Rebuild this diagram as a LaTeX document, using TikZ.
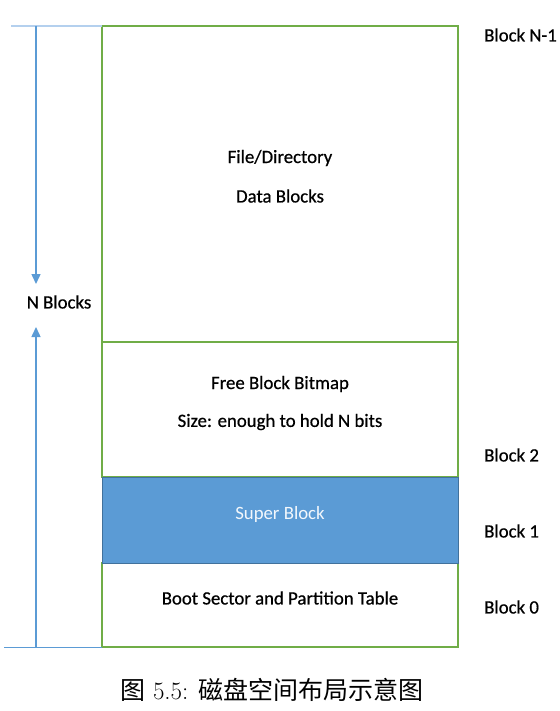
\documentclass[tikz,border=0pt]{standalone}
\usepackage{fontspec}
\setmainfont{Carlito}
\newfontfamily\heavy[FakeBold=0.6]{Carlito}
\newfontfamily\cjk{Noto Sans CJK SC}
\newfontfamily\lmr{Latin Modern Roman}
\usetikzlibrary{arrows.meta}
\definecolor{grn}{HTML}{70AD47}
\definecolor{blu}{HTML}{5B9BD5}
\definecolor{bludark}{HTML}{41719C}
\definecolor{bluelight}{HTML}{B4D0EE}
\tikzset{
  lbl/.style={font=\heavy\fontsize{18.8}{22}\selectfont, inner sep=0pt},
  blk/.style={draw=grn, line width=2pt},
  dim/.style={draw=blu, line width=1.5pt, -{Triangle[length=10pt,width=9pt]}},
}
\begin{document}
\begin{tikzpicture}[x=1pt,y=-1pt]
\useasboundingbox (0,0) rectangle (559,711);
% boxes
\node[blk, minimum width=356pt, minimum height=316pt, anchor=north west, inner sep=0pt, outer sep=0pt] (data) at (102,26) {};
\node[blk, minimum width=356pt, minimum height=135pt, anchor=north west, inner sep=0pt, outer sep=0pt] (free) at (102,342) {};
\node[blk, minimum width=356pt, minimum height=84pt, anchor=north west, inner sep=0pt, outer sep=0pt] (boot) at (102,563) {};
\node[draw=bludark, fill=blu, line width=1pt, minimum width=356pt, minimum height=86pt, anchor=north west, inner sep=0pt, outer sep=0pt] (super) at (102,477) {};
% texts
\node[lbl] (t1) at (280,158) {File/Directory};
\node[lbl] (t2) at (280,196) {Data Blocks};
\node[lbl] (t3) at (280,384) {Free Block Bitmap};
\node[lbl] (t4) at (280,422) {Size: enough to hold N bits};
\node[lbl, font=\normalfont\fontsize{18.8}{22}\selectfont, text=white!92!blu] (t5) at (280,514) {Super Block};
\node[lbl] (t6) at (280,598) {Boot Sector and Partition Table};
% right labels
\node[lbl, anchor=west] (bn) at (484,35) {Block N-1};
\node[lbl, anchor=west] (b2) at (484,455) {Block 2};
\node[lbl, anchor=west] (b1) at (484,531) {Block 1};
\node[lbl, anchor=west] (b0) at (484,607) {Block 0};
% dimension
\coordinate (topl) at (11,26);
\coordinate (botl) at (4,647);
\draw[bluelight, line width=2pt] (topl) -- (data.north west);
\draw[blu, line width=1pt] (botl) -- (boot.south west);
\node[lbl] (nb) at (59,302) {N Blocks};
\coordinate (at) at (36,26);
\coordinate (ab) at (36,647);
\draw[dim] (at) -- (36,284);
\draw[dim] (ab) -- (36,327);
% caption
\node[inner sep=0pt, font=\fontsize{25}{28}\selectfont] (cap) at (272,690) {\cjk 图\lmr\ 5.5: \cjk 磁盘空间布局示意图};
\end{tikzpicture}
\end{document}
